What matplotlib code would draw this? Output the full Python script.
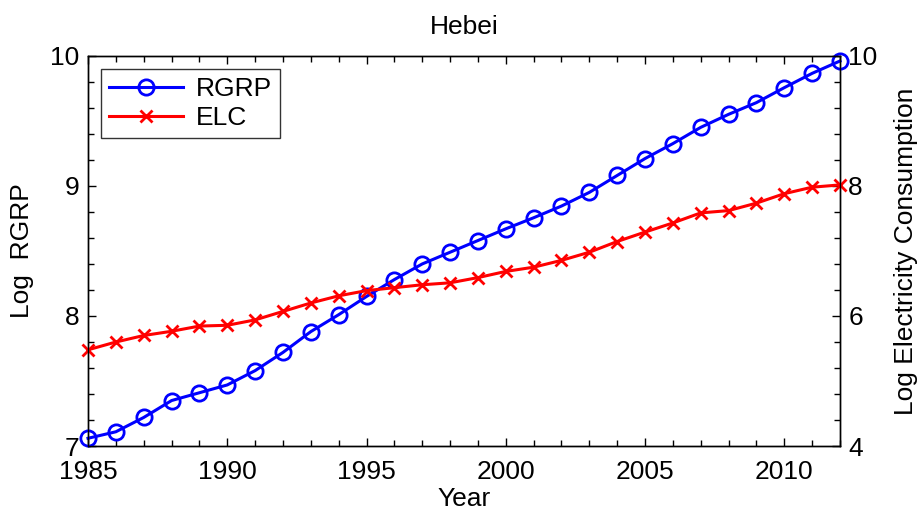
import matplotlib
matplotlib.use("Agg")
import matplotlib.pyplot as plt
from matplotlib.ticker import MultipleLocator

plt.rcParams["font.family"] = ["Liberation Sans", "DejaVu Sans"]

years = list(range(1985, 2013))

# log real gross regional product (left axis)
rgrp = [7.06, 7.11, 7.22, 7.35, 7.41, 7.47, 7.58, 7.72, 7.88, 8.01,
        8.15, 8.28, 8.40, 8.49, 8.58, 8.67, 8.755, 8.845, 8.95, 9.08,
        9.21, 9.325, 9.45, 9.55, 9.64, 9.755, 9.865, 9.96]

# log electricity consumption (right axis)
elc = [5.48, 5.60, 5.70, 5.765, 5.845, 5.857, 5.94, 6.07, 6.20, 6.31,
       6.39, 6.435, 6.48, 6.51, 6.59, 6.685, 6.75, 6.855, 6.98, 7.145,
       7.29, 7.43, 7.585, 7.62, 7.735, 7.88, 7.98, 8.015]

FS = 19

fig = plt.figure(figsize=(9.17, 5.19), dpi=100)
ax = fig.add_axes([0.096, 0.1405, 0.82, 0.752])
ax2 = ax.twinx()

l1, = ax.plot(years, rgrp, color="#0000ff", linewidth=2.2, marker="o",
              markersize=11, markerfacecolor="none", markeredgewidth=2.0,
              label="RGRP", clip_on=False, zorder=3)
l2, = ax2.plot(years, elc, color="#ff0000", linewidth=2.2, marker="x",
               markersize=8, markeredgewidth=2.0, label="ELC", clip_on=False)

ax.set_xlim(1985, 2012)
ax.set_ylim(7, 10)
ax2.set_ylim(4, 10)

ax.set_xticks([1985, 1990, 1995, 2000, 2005, 2010])
ax.xaxis.set_minor_locator(MultipleLocator(1))
ax.set_yticks([7, 8, 9, 10])
ax.yaxis.set_minor_locator(MultipleLocator(0.2))
ax2.set_yticks([4, 6, 8, 10])
ax2.yaxis.set_minor_locator(MultipleLocator(0.4))

ax.tick_params(which="both", direction="in", top=True, right=False,
               labelsize=FS, pad=6)
ax.tick_params(axis="x", which="both", pad=10)
ax.tick_params(which="major", length=6, width=1)
ax.tick_params(which="minor", length=4, width=1)
ax2.tick_params(which="both", direction="in", left=False, labelsize=FS, pad=6)
ax2.tick_params(which="major", length=6, width=1)
ax2.tick_params(which="minor", length=4, width=1)

for a in (ax, ax2):
    for s in a.spines.values():
        s.set_linewidth(1.0)

ax.set_xlabel("Year", fontsize=FS, labelpad=2)
ax.set_ylabel("Log  RGRP", fontsize=FS, labelpad=12)
ax2.set_ylabel("Log Electricity Consumption", fontsize=FS, labelpad=12)
ax.set_title("Hebei", fontsize=FS, pad=16)

leg = ax2.legend([l1, l2], ["RGRP", "ELC"], loc="upper left", fontsize=FS,
                 frameon=True, fancybox=False, borderaxespad=0.5,
                 handlelength=2.8, borderpad=0.3, labelspacing=0.2,
                 handletextpad=0.5)
leg.get_frame().set_edgecolor("black")
leg.get_frame().set_linewidth(1.0)

fig.savefig("out.png", dpi=100)
